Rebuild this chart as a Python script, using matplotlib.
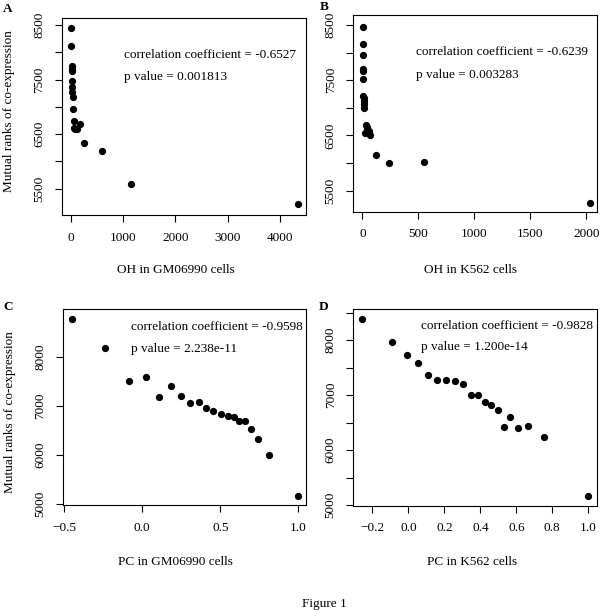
import matplotlib
matplotlib.use('Agg')

import matplotlib.pyplot as plt

plt.rcParams['font.family'] = ['Liberation Serif', 'DejaVu Serif']
plt.rcParams['font.size'] = 9.5

# Painel A: OH em GM06990
oh_gm_x = [10, 10, 15, 15, 15, 15, 20, 25, 30, 40, 50, 60, 80, 170, 120, 250, 590, 1150, 4350]
oh_gm_y = [8450, 8120, 7740, 7700, 7660, 7474, 7360, 7280, 7190, 6956, 6750, 6620, 6600, 6690, 6590, 6333, 6192, 5593, 5228]

# Painel B: OH em K562
oh_k_x = [5, 5, 5, 8, 8, 8, 10, 12, 14, 16, 18, 35, 40, 45, 25, 55, 70, 120, 240, 550, 2030]
oh_k_y = [8470, 8160, 7950, 7710, 7670, 7530, 7220, 7180, 7130, 7070, 6990, 6690, 6660, 6600, 6540, 6580, 6500, 6145, 6006, 6010, 5281]

# Painel C: PC em GM06990
pc_gm_x = [-0.449, -0.237, -0.083, 0.022, 0.107, 0.184, 0.248, 0.304, 0.361, 0.408,
           0.453, 0.503, 0.551, 0.590, 0.622, 0.658, 0.699, 0.740, 0.812, 1.0]
pc_gm_y = [8768, 8183, 7511, 7587, 7185, 7409, 7200, 7063, 7084, 6955,
           6888, 6827, 6792, 6772, 6697, 6684, 6528, 6324, 5998, 5163]

# Painel D: PC em K562
pc_k_x = [-0.256, -0.089, -0.006, 0.052, 0.108, 0.159, 0.211, 0.261, 0.306, 0.348,
          0.389, 0.428, 0.461, 0.498, 0.533, 0.567, 0.611, 0.667, 0.756, 1.0]
pc_k_y = [8376, 7969, 7727, 7582, 7364, 7273, 7273, 7261, 7200, 7000,
          7000, 6879, 6824, 6727, 6412, 6606, 6394, 6436, 6242, 5164]

ylabel = 'Mutual ranks of co-expression'

fig = plt.figure(figsize=(6.0, 6.16), dpi=100)


def painel(rect, x, y, xlim, ylim, xticks, xticklabels, yticks, yticklabels,
           cor, pval, txt_pos):
    ax = fig.add_axes(rect)
    ax.plot(x, y, 'o', color='black', ms=4.2, mec='black')
    ax.set_xlim(*xlim)
    ax.set_ylim(*ylim)
    ax.set_xticks(xticks)
    ax.set_xticklabels(xticklabels)
    ax.set_yticks(yticks)
    ax.set_yticklabels(yticklabels, rotation=90, va='center')
    ax.tick_params(direction='out', length=5, width=0.8, labelsize=9.5)
    ax.tick_params(axis='x', pad=7)
    ax.tick_params(axis='y', pad=7)
    for s in ax.spines.values():
        s.set_linewidth(0.8)
    ax.text(txt_pos[0], txt_pos[1], 'correlation coefficient = ' + cor,
            transform=ax.transAxes, va='center', ha='left')
    ax.text(txt_pos[0], txt_pos[2], 'p value = ' + pval,
            transform=ax.transAxes, va='center', ha='left')
    return ax


yt_oh = [5500, 6000, 6500, 7000, 7500, 8000, 8500]
yl_oh = ['5500', '', '6500', '', '7500', '', '8500']

painel([0.1033, 0.651, 0.4062, 0.3198], oh_gm_x, oh_gm_y,
       (-172, 4496), (5020, 8628),
       [0, 1000, 2000, 3000, 4000], ['0', '1000', '2000', '3000', '4000'],
       yt_oh, yl_oh, '-0.6527', '0.001813', (0.254, 0.812, 0.699))

painel([0.589, 0.6563, 0.4055, 0.3193], oh_k_x, oh_k_y,
       (-80, 2093), (5118, 8681),
       [0, 500, 1000, 1500, 2000], ['0', '500', '1000', '1500', '2000'],
       yt_oh, yl_oh, '-0.6239', '0.003283', (0.256, 0.810, 0.695))

painel([0.1045, 0.1802, 0.405, 0.3177], pc_gm_x, pc_gm_y,
       (-0.510, 1.047), (4980, 8965),
       [-0.5, 0.0, 0.5, 1.0], ['\u22120.5', '0.0', '0.5', '1.0'],
       [5000, 6000, 7000, 8000], ['5000', '6000', '7000', '8000'],
       '-0.9598', '2.238e-11', (0.281, 0.911, 0.796))

painel([0.589, 0.179, 0.4055, 0.3188], pc_k_x, pc_k_y,
       (-0.306, 1.047), (4987, 8558),
       [-0.2, 0.0, 0.2, 0.4, 0.6, 0.8, 1.0],
       ['\u22120.2', '0.0', '0.2', '0.4', '0.6', '0.8', '1.0'],
       [5000, 5500, 6000, 6500, 7000, 7500, 8000, 8500],
       ['5000', '', '6000', '', '7000', '', '8000', ''],
       '-0.9828', '1.200e-14', (0.277, 0.915, 0.81))

W, H = 600.0, 616.0

# titulos dos eixos x
fig.text(176 / W, 1 - 270 / H, 'OH in GM06990 cells', ha='center', va='center')
fig.text(471 / W, 1 - 270 / H, 'OH in K562 cells', ha='center', va='center')
fig.text(175 / W, 1 - 561.7 / H, 'PC in GM06990 cells', ha='center', va='center')
fig.text(472.5 / W, 1 - 561.7 / H, 'PC in K562 cells', ha='center', va='center')

# titulos dos eixos y
fig.text(9 / W, 1 - 111 / H, ylabel, rotation=90, ha='center', va='center')
fig.text(10 / W, 1 - 412.5 / H, ylabel, rotation=90, ha='center', va='center')

# letras dos paineis
fig.text(8 / W, 1 - 9 / H, 'A', fontweight='bold', ha='center', va='center')
fig.text(324 / W, 1 - 7 / H, 'B', fontweight='bold', ha='center', va='center')
fig.text(8 / W, 1 - 307 / H, 'C', fontweight='bold', ha='center', va='center')
fig.text(324 / W, 1 - 307 / H, 'D', fontweight='bold', ha='center', va='center')

fig.text(324 / W, 1 - 604 / H, 'Figure 1', ha='center', va='center')

fig.savefig('out.png', dpi=100, facecolor='white')
